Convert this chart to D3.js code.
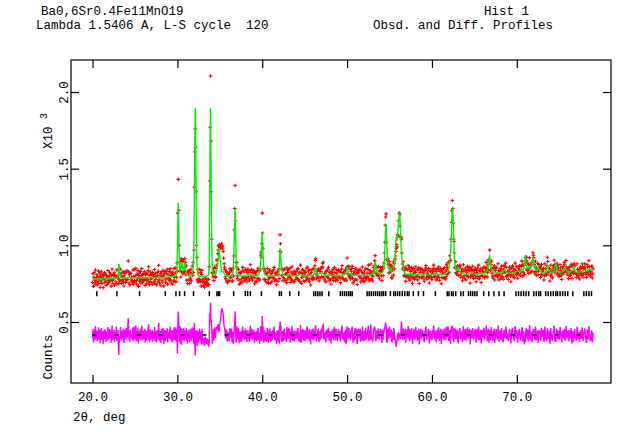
<!DOCTYPE html>
<html>
<head>
<meta charset="utf-8">
<script src="https://cdn.jsdelivr.net/npm/d3@7"></script>
<style>
body { margin: 0; background: #fff; }
text { font-family: "Liberation Mono", monospace; font-size: 12.5px; fill: #000; white-space: pre; }
</style>
</head>
<body>
<svg id="chart" width="642" height="444"></svg>
<script>
// GSAS profile, 2theta from 20.00 deg in 0.05 deg steps, counts
var startTwoTheta = 20.0, stepTwoTheta = 0.05;

// calculated profile (green), one row per degree
var calcCounts = [
 780,780,780,780,780,781,781,781,781,781,781,781,781,781,782,782,782,782,782,782,
 782,782,782,782,782,783,783,783,783,783,783,783,783,783,783,783,784,784,784,784,
 784,784,784,784,784,784,784,784,785,785,785,785,785,785,786,786,786,787,788,795,
 810,845,880,860,812,800,792,790,788,788,787,787,787,787,787,787,787,787,787,787,
 787,787,787,787,788,788,788,788,788,788,788,788,788,788,788,788,788,788,788,788,
 788,788,788,788,788,788,788,788,788,788,789,789,789,789,789,789,789,789,789,789,
 789,789,789,789,789,789,789,789,789,789,790,790,790,790,790,790,790,790,790,790,
 790,790,790,790,790,790,790,790,790,790,790,790,790,790,790,790,790,790,790,790,
 790,790,790,790,791,791,791,791,792,793,795,798,800,803,805,803,800,798,795,794,
 793,793,793,793,794,794,794,795,795,795,796,796,797,797,798,800,803,807,812,850,
 950,1150,1277,1150,960,880,835,838,850,868,890,880,860,845,835,850,870,885,880,855,
 830,820,812,808,805,803,802,801,800,800,800,800,802,805,808,815,825,845,880,1000,
 1300,1650,1894,1700,1320,1050,890,845,820,810,805,802,800,799,798,797,797,797,797,797,
 797,797,797,797,797,797,798,798,799,799,800,801,803,808,820,900,1280,1650,1894,1600,
 1250,1000,880,840,815,810,805,805,805,807,810,818,830,850,870,885,900,940,980,960,
 920,900,880,860,840,830,825,826,830,826,820,812,808,805,803,801,800,800,800,800,
 800,800,800,800,801,801,802,803,805,808,812,830,860,950,1050,1150,1235,1100,940,880,
 830,815,808,805,803,802,801,800,800,800,800,800,800,800,800,800,800,800,800,800,
 801,803,805,806,808,810,812,814,815,813,810,811,812,809,806,804,803,802,802,801,
 801,801,801,801,801,801,802,802,803,804,805,807,810,818,830,850,880,920,960,1030,
 1086,1020,930,870,830,818,810,807,805,804,803,802,802,801,801,801,801,801,801,801,
 801,801,801,801,801,801,801,801,801,801,801,801,802,802,802,802,803,804,805,815,
 840,920,981,950,900,870,845,828,815,810,808,806,805,804,803,802,802,802,802,802,
 803,803,804,808,812,810,808,806,804,803,802,802,802,802,802,802,802,802,802,802,
 802,802,802,802,803,805,807,809,810,808,806,804,803,802,802,802,802,802,802,802,
 802,802,802,802,802,802,802,802,803,803,803,803,803,803,803,803,804,805,806,806,
 807,808,810,825,845,852,850,838,825,818,812,811,812,813,815,818,820,819,818,816,
 815,818,822,819,815,811,808,806,805,805,804,804,804,804,805,807,810,808,806,805,
 804,804,803,803,803,803,803,803,803,803,803,803,803,803,803,803,803,803,803,803,
 803,803,803,803,803,803,804,805,806,808,810,809,808,810,812,813,815,820,825,840,
 860,850,835,825,818,815,812,813,815,813,810,809,808,806,805,804,804,804,804,804,
 804,804,804,804,804,804,804,804,804,804,804,804,804,804,804,804,804,804,804,804,
 804,804,804,804,804,804,805,805,806,808,810,809,808,807,806,807,808,810,812,813,
 815,814,812,815,822,850,893,880,860,845,830,826,822,820,818,816,815,815,815,816,
 818,820,822,825,828,833,840,860,900,980,1060,1110,1140,1060,960,910,870,855,845,842,
 840,842,845,840,835,831,828,829,830,836,845,860,880,930,980,1020,1057,1045,1030,1060,
 1100,1140,1180,1200,1205,1150,1080,1010,950,920,900,875,850,838,830,825,820,817,815,813,
 812,811,810,810,810,811,812,813,814,813,812,811,810,809,808,808,808,808,808,808,
 808,808,808,808,809,810,812,813,814,813,812,811,810,809,809,809,809,809,809,809,
 809,810,812,814,816,814,812,811,810,809,809,809,809,809,809,809,809,809,809,809,
 809,809,809,809,810,811,812,815,818,820,822,818,815,813,812,811,810,810,810,810,
 810,810,810,810,810,810,811,811,812,812,812,813,814,816,818,820,822,826,830,845,
 860,880,900,930,960,1020,1100,1180,1242,1220,1180,1080,980,920,880,862,850,842,835,837,
 840,850,860,848,835,830,825,822,820,819,818,816,815,814,814,813,813,812,812,812,
 812,812,812,812,813,814,815,816,818,816,815,814,814,815,816,817,818,816,815,814,
 813,812,812,812,812,812,812,812,813,814,815,816,817,816,815,814,813,813,813,813,
 813,814,815,816,818,820,822,825,828,831,835,842,850,865,890,915,937,900,870,855,
 845,838,832,829,826,827,828,827,826,824,822,821,820,819,818,818,818,818,818,818,
 818,818,818,818,819,820,822,824,826,830,835,840,842,836,830,826,822,821,820,819,
 818,818,818,818,818,818,818,818,818,818,819,819,820,821,822,823,825,826,828,829,
 830,832,835,834,832,830,828,829,830,834,838,842,845,844,842,845,848,858,870,900,
 937,910,880,870,860,855,850,854,858,857,855,852,850,855,860,870,880,900,926,905,
 880,865,850,845,840,839,838,841,845,852,860,852,845,840,835,832,830,829,828,824,
 820,820,819,819,820,822,824,827,830,835,840,855,879,865,848,840,832,829,826,825,
 824,823,822,823,824,827,830,836,842,855,868,880,890,870,850,841,832,829,826,825,
 824,823,822,822,822,823,824,826,828,831,835,841,848,856,865,855,842,836,830,828,
 826,825,824,824,824,825,826,828,830,834,838,843,848,854,860,851,842,836,830,828,
 826,825,824,823,823,823,824,825,826,827,828,828,829,829,830,831,832,833,834,835,
 836,837,838,840,842,840,838,837,836,838,840,842,844,842,840,838,836,835,834,834,
 834
];

// observed minus calculated (magenta), same grid
var diffCounts = [
 -22,35,-48,12,41,-9,-33,58,-21,6,27,-40,15,-12,50,-30,3,37,-55,19,
 -14,46,-31,8,26,-60,18,-5,38,-25,33,-17,-44,21,9,-36,52,-11,-27,14,
 40,-19,-6,29,-50,17,62,-13,-34,22,-4,36,-45,19,10,-24,53,-39,13,-8,
 32,-60,-130,-20,-44,13,52,-19,28,-37,9,-12,40,-26,-52,18,33,-7,-29,45,
 39,-15,-8,46,110,40,-34,19,-46,27,31,-12,4,-23,-26,51,-41,8,55,-18,
 -30,13,62,-18,-41,24,-6,47,-56,15,28,-22,-9,41,-35,12,60,-14,-33,21,
 28,-21,-9,40,-50,18,30,-14,-37,24,-12,45,70,-26,-45,14,35,-10,-32,22,
 -4,34,-43,19,9,-24,52,-39,27,-11,5,-48,33,15,-29,41,80,-15,-36,10,
 25,-52,6,39,-19,-30,46,13,-58,21,33,-18,-40,27,8,-23,44,-51,16,-7,
 -11,37,-25,55,-18,9,-40,24,31,-49,14,-28,50,-6,-33,20,50,-44,-21,35,
 -120,60,153,80,40,-46,57,19,-57,44,-63,25,38,-30,-12,45,-40,28,-25,32,
 -21,47,-39,18,-56,30,6,-25,35,-48,22,-14,41,-37,9,50,-20,45,-57,-30,
 80,-40,-134,-60,30,-50,32,-70,22,-50,15,-18,43,-28,-35,26,-63,12,40,-20,
 -38,-61,-20,-32,-70,-44,-12,-53,-35,-60,-22,-45,-63,-30,-76,-40,140,120,211,80,
 100,40,-57,-25,-20,38,-35,20,50,-10,-19,30,40,55,32,60,70,55,19,45,
 70,90,100,140,170,170,165,150,130,90,60,45,35,-10,-22,30,25,-35,-43,10,
 18,-30,-33,25,47,-10,-13,40,30,-44,-43,20,-60,-20,50,90,155,60,-50,-20,
 57,-15,-25,40,39,-30,-55,22,15,-45,24,-20,-40,33,56,-12,-9,28,-30,-8,
 43,-25,-18,30,-47,12,33,-20,9,-40,-37,25,61,-15,-22,40,19,-30,-6,24,
 34,-12,-52,20,11,-35,25,-40,-19,30,46,-22,-30,15,-57,-10,57,35,-38,-20,
 124,60,51,-20,-51,25,22,-30,-39,10,13,-45,47,20,-25,-50,-11,33,37,-10,
 -46,12,19,-35,31,-8,-15,40,55,-20,-34,18,6,-30,-59,25,24,-40,4,30,
 -57,40,87,60,57,-25,-43,18,25,-40,-18,35,41,-22,-33,10,13,-45,52,20,
 -24,35,39,-15,-13,40,-50,-20,22,-30,58,12,-31,-40,11,30,-41,8,18,-25,
 28,-12,-19,40,46,-30,-34,15,9,-45,65,20,-52,-10,15,40,-6,-35,33,12,
 -39,20,24,-30,-11,45,56,-15,-25,30,4,-40,39,12,-62,-20,19,35,-13,-30,
 43,-20,-30,15,22,50,63,-25,-43,12,-18,30,34,-20,-47,15,25,-30,11,40,
 -19,35,61,40,75,-20,-28,10,13,-40,-43,25,33,-10,-9,35,47,-25,-37,20,
 18,-30,-55,20,28,-15,6,40,-33,-10,52,20,-15,-35,41,15,-24,-30,-4,30,
 37,-10,-13,25,-46,-20,22,40,62,-15,-28,10,11,-35,-39,20,25,-40,-56,15,
 57,10,-22,35,46,-20,-11,30,-34,-15,19,40,55,-20,-50,10,9,-35,28,45,
 -25,10,41,-30,-59,20,15,35,33,-10,-6,40,-43,-20,24,-35,56,15,-18,-40,
 11,30,-37,-10,47,-20,-24,15,-9,35,61,-25,-41,10,28,-30,70,15,-30,-10,
 -47,-15,19,40,45,50,40,-20,-43,10,30,-20,-18,35,43,-15,-33,20,13,40,
 24,-20,-52,10,34,-30,11,25,50,40,70,75,65,-40,-51,-10,43,20,-25,35,
 55,10,-18,30,31,-40,-43,10,22,-30,47,20,-33,-20,-50,-60,-77,-40,-40,10,
 -38,20,-20,10,-5,-25,-22,40,89,30,-22,-30,43,20,-30,-20,18,40,-50,-20,
 34,-10,-11,30,58,-20,-25,40,-41,-10,18,30,46,-20,-56,-15,6,40,25,-30,
 -22,15,52,-10,-9,30,-37,-15,28,40,-61,-20,13,30,41,-20,-19,15,33,-10,
 15,-30,-46,20,24,40,56,-20,-31,10,-6,30,39,-20,-55,-15,22,30,-15,-20,
 -33,10,25,40,61,-15,-19,30,9,-20,-47,10,34,-25,-13,30,50,-20,-39,20,
 19,40,-59,-20,30,10,4,35,-24,-30,43,15,-34,-20,55,20,-11,30,57,-20,
 -38,10,32,-30,-57,20,50,45,50,20,-35,-40,45,30,-25,-10,43,-20,-21,20,
 25,-20,-56,10,18,40,41,-15,-28,10,9,30,-46,-20,59,20,-13,-30,24,40,
 -37,-10,13,30,50,-15,-22,20,33,40,-61,-20,19,30,-6,-20,46,20,-31,-10,
 6,30,40,-20,-50,10,25,40,-15,-30,56,20,-34,-20,18,35,-55,-10,31,20,
 -18,10,43,40,-28,-20,11,30,61,20,-41,-20,22,40,-51,-20,32,-10,-33,20,
 52,10,-13,-30,-39,20,28,40,-52,-20,15,30,37,-10,-24,-20,62,15,-43,-10,
 13,30,-33,-20,46,20,-6,-30,-47,10,34,20,-19,-10,55,30,-28,-20,9,-10,
 -41,-10,22,40,4,-20,-56,-10,31,40,47,10,-18,-30,-34,20,59,10,-9,-20,
 33,-10,-50,-20,19,30,40,10,-25,-30,-11,20,52,30,-43,-20,24,10,-61,-20,
 -45,10,43,30,-15,-20,34,20,-41,-10,65,20,-28,-30,11,20,-47,-10,26,30,
 40,10,-24,-30,56,20,-34,-10,6,30,-52,-20,31,10,19,30,-40,-20,47,20,
 -13,10,28,30,-46,-20,55,20,-19,-30,-33,10,43,30,-26,-10,15,20,-59,-20,
 46,10,-9,-30,-37,10,22,30,61,20,-43,-20,-45,10,33,30,-18,-20,28,10,
 -28,-10,52,30,13,-20,-47,-10,24,30,-15,-20,41,20,-35,-10,59,20,-6,-20,
 18,30,-41,-20,33,10,-22,-10,47,30,-56,-20,26,10,-45,-20,37,30,-12,-10,
 -35,-10,56,20,-19,-30,9,20,-46,-10,31,20,-26,-10,50,30,-40,-20,19,10,
 43,20,-15,-30,-52,-20,35,20,-28,-10,59,20,-9,-30,-41,-10,24,30,-47,-20,
 13
];

// reflection positions (black tick marks), deg
var reflections = [20.5, 22.87, 25.54, 28.57, 29.83, 30.26, 30.85, 31.9, 33.76, 34.66, 34.82, 34.97,
  36.63, 38.0, 38.28, 38.6, 39.9, 42.02, 42.25, 43.24, 44.3, 46.07, 46.3, 46.55, 46.8, 47.05, 47.84,
  49.2, 49.45, 49.7, 49.95, 50.2, 50.4, 50.6, 52.36, 52.6, 52.85, 53.1, 53.35, 53.6, 53.85, 54.1,
  54.3, 54.55, 55.1, 55.5, 55.7, 55.95, 56.2, 56.5, 56.8, 57.1, 57.3, 57.8, 58.4, 59.0, 60.4, 61.8,
  62.0, 62.3, 62.5, 62.8, 63.4, 63.7, 64.3, 64.55, 64.8, 65.05, 65.3, 66.1, 66.7, 67.3, 67.9, 68.5,
  69.9, 70.2, 70.5, 70.8, 71.1, 71.4, 72.0, 72.3, 72.6, 72.8, 73.4, 73.7, 74.0, 74.3, 74.6, 74.8,
  75.1, 75.4, 75.7, 76.0, 76.6, 77.9, 78.2, 78.5, 78.8];

var xTicks = [20, 30, 40, 50, 60, 70];
var yTicks = [500, 1000, 1500, 2000];
var xDomain = [17.46, 81.1];
var yDomain = [102, 2209];
var diffOffset = 415, markerLevel = 685;

var titleLeft = ["Ba0,6Sr0.4Fe11MnO19", "Lambda 1.5406 A, L-S cycle  120"];
var titleRight = ["Hist 1", "Obsd. and Diff. Profiles"];

// build the profile table
var n = Math.min(calcCounts.length, diffCounts.length);
var profile = calcCounts.slice(0, n).map(function (c, i) {
    return { t: startTwoTheta + i * stepTwoTheta, calc: c, diff: diffCounts[i], obs: c + diffCounts[i] };
});

var svg = d3.select("#chart");
var margin = { top: 60, right: 31, bottom: 61, left: 71 };
var W = 642, H = 444;

var x = d3.scaleLinear().domain(xDomain).range([margin.left, W - margin.right]);
var y = d3.scaleLinear().domain(yDomain).range([H - margin.bottom, margin.top]);

// difference curve
svg.append("path").datum(profile)
    .attr("fill", "none").attr("stroke", "#ff00ff").attr("stroke-width", 1.4)
    .attr("d", d3.line().x(function (d) { return x(d.t); }).y(function (d) { return y(diffOffset + d.diff); }));

svg.append("line")
    .attr("x1", x(profile[0].t)).attr("x2", x(profile[n - 1].t))
    .attr("y1", y(diffOffset)).attr("y2", y(diffOffset))
    .attr("stroke", "#000").attr("stroke-width", 1.3).attr("stroke-dasharray", "4,18");

// observed points as small crosses
var p = d3.path();
profile.forEach(function (d) {
    var px = x(d.t), py = y(d.obs);
    p.moveTo(px - 1.8, py); p.lineTo(px + 1.8, py);
    p.moveTo(px, py - 1.8); p.lineTo(px, py + 1.8);
});
svg.append("path").attr("d", p.toString()).attr("stroke", "#ff0000").attr("stroke-width", 1.1).attr("fill", "none");

// calculated curve
svg.append("path").datum(profile)
    .attr("fill", "none").attr("stroke", "#00ee00").attr("stroke-width", 1.4)
    .attr("d", d3.line().x(function (d) { return x(d.t); }).y(function (d) { return y(d.calc); }));

// reflection markers
svg.append("g").selectAll("line").data(reflections).enter().append("line")
    .attr("x1", function (d) { return x(d); }).attr("x2", function (d) { return x(d); })
    .attr("y1", y(markerLevel) - 2.5).attr("y2", y(markerLevel) + 2.5)
    .attr("stroke", "#000").attr("stroke-width", 1.5);

// frame and axes
svg.append("rect").attr("x", margin.left).attr("y", margin.top)
    .attr("width", W - margin.left - margin.right).attr("height", H - margin.top - margin.bottom)
    .attr("fill", "none").attr("stroke", "#000").attr("stroke-width", 1.2);

var gx = svg.append("g").attr("transform", "translate(0," + (H - margin.bottom) + ")")
    .call(d3.axisBottom(x).tickValues(xTicks).tickSizeInner(-8).tickSizeOuter(0).tickPadding(9).tickFormat(d3.format(".1f")));
var gxt = svg.append("g").attr("transform", "translate(0," + margin.top + ")")
    .call(d3.axisTop(x).tickValues(xTicks).tickSizeInner(-8).tickSizeOuter(0).tickFormat(""));
var gy = svg.append("g").attr("transform", "translate(" + margin.left + ",0)")
    .call(d3.axisLeft(y).tickValues(yTicks).tickSizeInner(-8).tickSizeOuter(0).tickFormat(function (d) { return (d / 1000).toFixed(1); }));
var gyr = svg.append("g").attr("transform", "translate(" + (W - margin.right) + ",0)")
    .call(d3.axisRight(y).tickValues(yTicks).tickSizeInner(-8).tickSizeOuter(0).tickFormat(""));

[gx, gxt, gy, gyr].forEach(function (g) {
    g.attr("font-family", null).attr("font-size", null);
    g.select(".domain").remove();
    g.selectAll(".tick line").attr("stroke", "#000").attr("stroke-width", 1.2);
});
gy.selectAll(".tick text").attr("x", 0).attr("dy", 0)
    .attr("text-anchor", "middle").attr("transform", "translate(-3,0) rotate(-90)");

// axis titles
svg.append("text").attr("x", 73).attr("y", 421).text("2\u03b8, deg");
svg.append("text").attr("text-anchor", "middle").attr("transform", "translate(52,357) rotate(-90)").text("Counts");
var xl = svg.append("text").attr("transform", "translate(52,131) rotate(-90)").attr("text-anchor", "middle");
xl.append("tspan").text("X10 ");
xl.append("tspan").attr("dy", "-0.5em").attr("font-size", "10px").text("3");

// header
svg.selectAll(".tl").data(titleLeft).enter().append("text").attr("class", "tl")
    .attr("x", function (d, i) { return i ? 36 : 41; }).attr("y", function (d, i) { return 15 + i * 14; })
    .text(function (d) { return d; });
svg.selectAll(".tr").data(titleRight).enter().append("text").attr("class", "tr")
    .attr("x", function (d, i) { return i ? 373 : 484; }).attr("y", function (d, i) { return 15 + i * 14; })
    .text(function (d) { return d; });
</script>
</body>
</html>
